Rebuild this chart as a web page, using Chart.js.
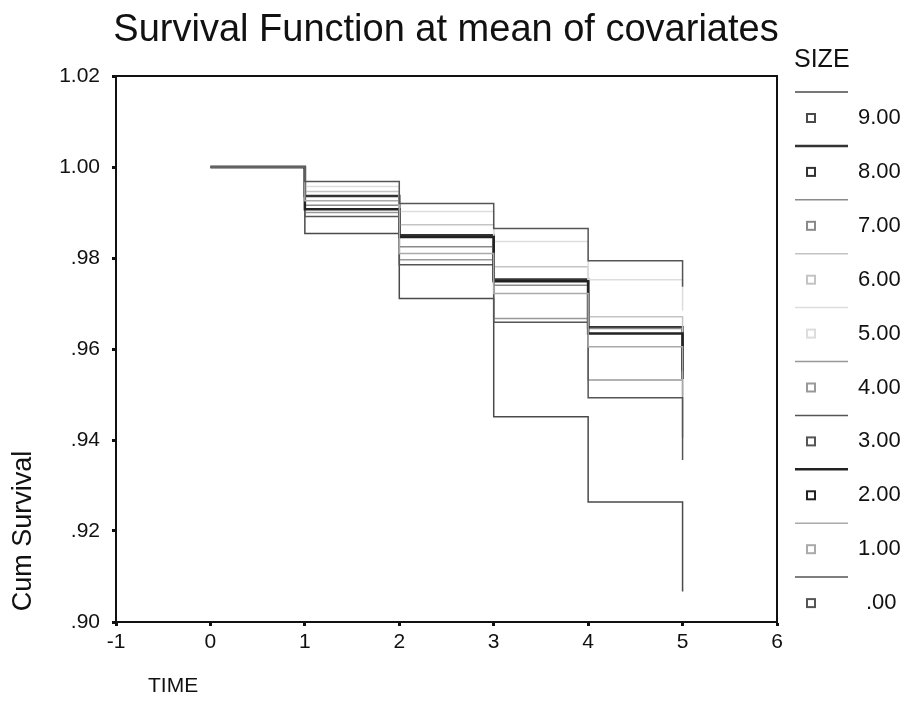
<!DOCTYPE html>
<html>
<head>
<meta charset="utf-8">
<script src="https://cdn.jsdelivr.net/npm/chart.js@4"></script>
<style>
  html, body { margin: 0; padding: 0; background: #fff; }
  #wrap { width: 905px; height: 723px; position: relative; }
</style>
</head>
<body>
<div id="wrap"><canvas id="survChart" width="905" height="723"></canvas></div>
<script>
// time points of the survival table
const times = [0, 1, 2, 3, 4, 5];
const sizeLabels = ['.00', '1.00', '2.00', '3.00', '4.00', '5.00', '6.00', '7.00', '8.00', '9.00'];
const yTicks = [0.90, 0.92, 0.94, 0.96, 0.98, 1.00, 1.02];
const xTicks = [-1, 0, 1, 2, 3, 4, 5, 6];

// cumulative survival per SIZE stratum
const size0 = [1.0, 0.9968, 0.9920, 0.9865, 0.9794, 0.9737];
const size1 = [1.0, 0.9926, 0.9810, 0.9722, 0.9605, 0.9497];
const size2 = [1.0, 0.9907, 0.9846, 0.9749, 0.9634, 0.9534];
const size3 = [1.0, 0.9891, 0.9785, 0.9659, 0.9493, 0.9356];
const size4 = [1.0, 0.9900, 0.9796, 0.9667, 0.9532, 0.9405];
const size5 = [1.0, 0.9957, 0.9902, 0.9836, 0.9752, 0.9684];
const size6 = [1.0, 0.9946, 0.9873, 0.9781, 0.9671, 0.9581];
const size7 = [1.0, 0.9916, 0.9825, 0.9740, 0.9645, 0.9548];
const size8 = [1.0, 0.9936, 0.9850, 0.9753, 0.9648, 0.9552];
const size9 = [1.0, 0.9854, 0.9711, 0.9451, 0.9264, 0.9067];

const series = [size0, size1, size2, size3, size4, size5, size6, size7, size8, size9];
const lineColors = ['#555', '#aaa', '#222', '#555', '#999', '#ddd', '#c4c4c4', '#8a8a8a', '#333', '#4a4a4a'];
const lineWidths = [1.5, 1.5, 2.5, 1.5, 1.5, 1.5, 1.5, 1.5, 2.5, 1.5];

const FONT = 'Liberation Sans, Arial, sans-serif';

const datasets = series.map((vals, i) => ({
    label: sizeLabels[i],
    data: vals.map((v, j) => ({ x: times[j], y: v })),
    borderColor: lineColors[i],
    borderWidth: lineWidths[i],
    stepped: 'before',
    pointRadius: 0,
    fill: false
}));

// title, axis titles, frame and the SIZE legend
const decorations = {
    id: 'decorations',
    afterDraw(chart) {
        const ctx = chart.ctx;
        const a = chart.chartArea;
        ctx.save();
        ctx.strokeStyle = '#111';
        ctx.lineWidth = 2;
        ctx.beginPath();
        ctx.moveTo(a.left, a.top);
        ctx.lineTo(a.right, a.top);
        ctx.lineTo(a.right, a.bottom);
        ctx.stroke();

        ctx.fillStyle = '#111';
        ctx.textBaseline = 'middle';
        ctx.textAlign = 'center';
        ctx.font = '38px ' + FONT;
        ctx.fillText('Survival Function at mean of covariates', 446, 31);

        ctx.textAlign = 'left';
        ctx.font = '25px ' + FONT;
        ctx.fillText('SIZE', 794, 60);
        ctx.font = '21px ' + FONT;
        ctx.fillText('TIME', 148, 686);

        ctx.save();
        ctx.translate(24, 531);
        ctx.rotate(-Math.PI / 2);
        ctx.textAlign = 'center';
        ctx.font = '27px ' + FONT;
        ctx.fillText('Cum Survival', 0, 0);
        ctx.restore();

        // legend, 9.00 at the top
        ctx.font = '22px ' + FONT;
        for (let k = 0; k < series.length; k++) {
            const i = series.length - 1 - k;
            const yLine = 92 + k * 53.9;
            const yItem = 118 + k * 53.9;
            ctx.strokeStyle = lineColors[i];
            ctx.lineWidth = lineWidths[i];
            ctx.beginPath();
            ctx.moveTo(795, yLine);
            ctx.lineTo(848, yLine);
            ctx.stroke();
            ctx.lineWidth = 2;
            ctx.strokeRect(807, yItem - 4, 8, 8);
            ctx.fillStyle = '#111';
            ctx.fillText(sizeLabels[i], i === 0 ? 866 : 858, yItem);
        }
        ctx.restore();
    }
};

new Chart(document.getElementById('survChart'), {
    type: 'line',
    data: { datasets },
    options: {
        responsive: false,
        animation: false,
        layout: { padding: { left: 0, right: 128, top: 76, bottom: 0 } },
        plugins: {
            legend: { display: false },
            title: { display: false },
            tooltip: { enabled: false }
        },
        scales: {
            x: {
                type: 'linear',
                min: -1,
                max: 6,
                afterFit(scale) { scale.height = 101; },
                afterBuildTicks(scale) { scale.ticks = xTicks.map(v => ({ value: v })); },
                grid: { drawOnChartArea: false, drawTicks: true, tickLength: 4, tickWidth: 3, tickColor: '#111' },
                border: { display: true, color: '#111', width: 2 },
                ticks: { color: '#111', font: { size: 21, family: FONT }, padding: 4 }
            },
            y: {
                type: 'linear',
                min: 0.90,
                max: 1.02,
                afterFit(scale) { scale.width = 116; },
                afterBuildTicks(scale) { scale.ticks = yTicks.map(v => ({ value: v })); },
                grid: { drawOnChartArea: false, drawTicks: true, tickLength: 4, tickWidth: 3, tickColor: '#111' },
                border: { display: true, color: '#111', width: 2 },
                ticks: {
                    color: '#111',
                    font: { size: 21, family: FONT },
                    padding: 12,
                    callback: v => v.toFixed(2).replace(/^0/, '')
                }
            }
        }
    },
    plugins: [decorations]
});
</script>
</body>
</html>
